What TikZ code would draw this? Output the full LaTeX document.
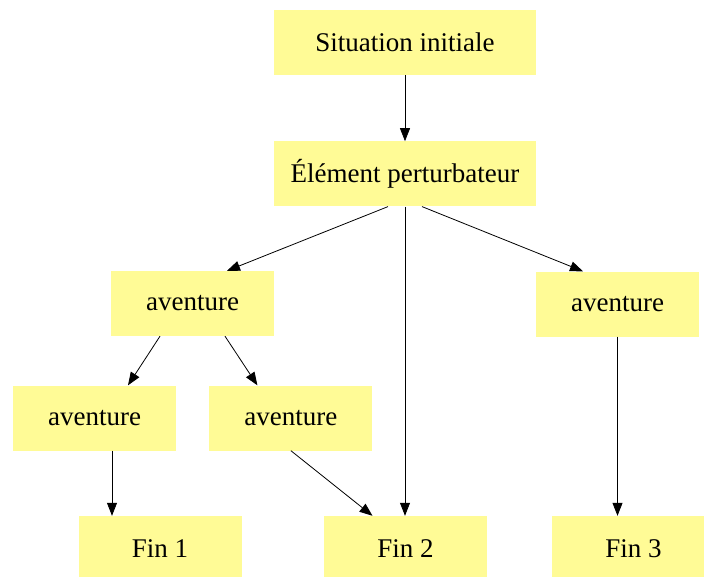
\documentclass[tikz,border=0pt]{standalone}
\usepackage{fontspec}
\setmainfont{Liberation Serif}
\usetikzlibrary{positioning,arrows.meta}
\definecolor{boxyellow}{RGB}{255,251,150}

\begin{document}
\begin{tikzpicture}[x=1pt,y=-1pt,block/.style={fill=boxyellow,rectangle,inner sep=0pt,minimum width=163pt,minimum height=65pt,font=\fontsize{27}{32}\selectfont},wide/.style={block,minimum width=262pt},arrow/.style={draw=black,line width=0.8pt,-{Triangle[length=13pt,width=10pt]}}]
  \useasboundingbox (0,0) rectangle (704,576);

  \node[wide] at (405,42.5) (init) {Situation initiale};
  \node[wide,below=66pt of init] (perturb) {Élément perturbateur};

  \node[block] at (192.5,303.5) (av1) {aventure};
  \node[block] at (617.5,304) (av2) {aventure};

  \node[block] at (94.5,418) (av11) {aventure};
  \node[block,right=33pt of av11] (av12) {aventure};

  \node[block] at (160,548.5) (fin1) {Fin 1};
  \node[block] at (405.5,548.5) (fin2) {Fin 2};
  \node[block] at (633.5,548.5) (fin3) {Fin 3};

  \draw[arrow] (init) -- (perturb);
  \draw[arrow] ([xshift=-17pt]perturb.south) -- ([xshift=34.5pt]av1.north);
  \draw[arrow] (perturb.south) -- (perturb.south |- fin2.north);
  \draw[arrow] ([xshift=17pt]perturb.south) -- ([xshift=-34.5pt]av2.north);
  \draw[arrow] ([xshift=-32.5pt]av1.south) -- ([xshift=33.5pt]av11.north);
  \draw[arrow] ([xshift=32.5pt]av1.south) -- ([xshift=-33.5pt]av12.north);
  \draw[arrow] ([xshift=17.5pt]av11.south) -- ([xshift=-48pt]fin1.north);
  \draw[arrow] (av12.south) -- ([xshift=-33pt]fin2.north);
  \draw[arrow] (av2.south) -- ([xshift=-16pt]fin3.north);
\end{tikzpicture}
\end{document}
